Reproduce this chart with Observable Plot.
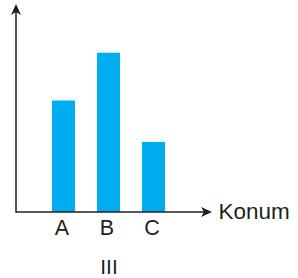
<!DOCTYPE html>
<html><head><meta charset="utf-8">
<script src="https://cdn.jsdelivr.net/npm/d3@7"></script>
<script src="https://cdn.jsdelivr.net/npm/@observablehq/plot@0.6"></script>
<style>body{margin:0;background:#fff} svg{display:block}</style>
</head><body><div id="chart"></div>
<script>
const categories = ["A", "B", "C"];
const values = [7, 10, 4.4];
const xLabel = "Konum";
const caption = "III";
const yMax = 13.06;

const data = categories.map((c, i) => ({cat: c, val: values[i]}));
const W = 298, H = 278, mL = 16, mR = 97, mT = 4, mB = 66;
const ink = "#231f20", barColor = "#00aeef";

const chart = Plot.plot({
  width: W, height: H,
  marginLeft: mL, marginRight: mR, marginTop: mT, marginBottom: mB,
  style: {fontFamily: "'Liberation Sans', Arial, sans-serif", color: ink, background: "#fff", overflow: "visible"},
  x: {domain: categories, paddingInner: 0.5, paddingOuter: 35 / 46, axis: null},
  y: {domain: [0, yMax], axis: null},
  marks: [
    Plot.barY(data, {x: "cat", y: "val", fill: barColor}),
    Plot.axisX({tickSize: 0, tickPadding: 7, fontSize: 21.5, dx: -2, fill: ink, label: null}),
    Plot.text([xLabel], {text: d => d, frameAnchor: "bottom-right", textAnchor: "start", lineAnchor: "middle", dx: 17, dy: -1, fontSize: 22.5, fill: ink}),
    Plot.text([caption], {text: d => d, frameAnchor: "bottom", lineAnchor: "middle", dy: 55, fontSize: 21, fill: ink})
  ]
});

// axis lines with arrowheads, positioned from the plot frame
const svg = d3.select(chart);
const y0 = H - mB, x0 = mL;
const tipX = W - mR + 11, tipY = mT;
const g = svg.append("g").attr("fill", ink).attr("stroke", ink);
g.append("line").attr("x1", x0).attr("y1", y0).attr("x2", tipX - 6).attr("y2", y0).attr("stroke-width", 1.5);
g.append("line").attr("x1", x0).attr("y1", y0 + 0.75).attr("x2", x0).attr("y2", tipY + 6).attr("stroke-width", 1.5);
g.append("path").attr("stroke", "none")
  .attr("d", `M${tipX},${y0}L${tipX - 11},${y0 - 5}L${tipX - 8},${y0}L${tipX - 11},${y0 + 5}Z`);
g.append("path").attr("stroke", "none")
  .attr("d", `M${x0},${tipY}L${x0 - 5},${tipY + 11}L${x0},${tipY + 8}L${x0 + 5},${tipY + 11}Z`);

document.getElementById("chart").appendChild(chart);
</script>
</body></html>
